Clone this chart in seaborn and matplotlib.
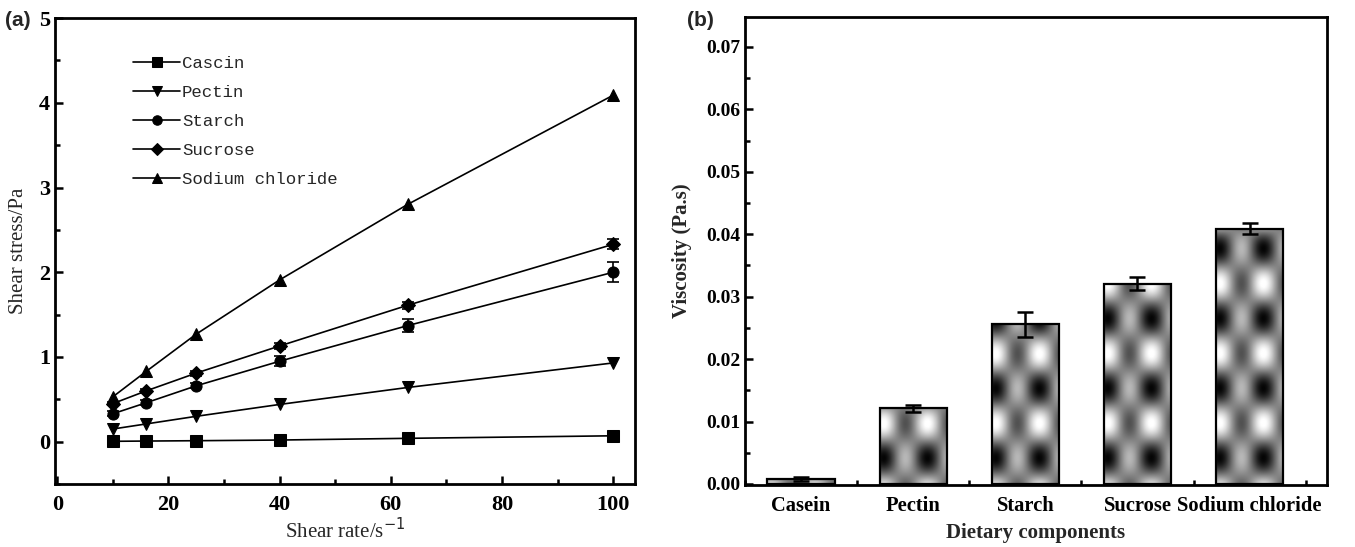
import numpy as np
import matplotlib
matplotlib.use("Agg")
import matplotlib.pyplot as plt
from matplotlib.ticker import MultipleLocator, FormatStrFormatter
import seaborn as sns

# (a) shear stress vs shear rate
shear_rate = [10, 16, 25, 40, 63, 100]
series_names = ["Cascin", "Pectin", "Starch", "Sucrose", "Sodium chloride"]
casein_stress = [0.005, 0.008, 0.012, 0.02, 0.04, 0.07]
pectin_stress = [0.15, 0.21, 0.30, 0.44, 0.64, 0.93]
starch_stress = [0.33, 0.46, 0.66, 0.95, 1.37, 2.00]
sucrose_stress = [0.45, 0.60, 0.81, 1.13, 1.61, 2.33]
nacl_stress = [0.53, 0.83, 1.27, 1.91, 2.80, 4.09]
starch_err = [0.03, 0.03, 0.03, 0.06, 0.08, 0.12]
sucrose_err = [0.02, 0.02, 0.03, 0.03, 0.04, 0.06]
series_markers = ["s", "v", "o", "D", "^"]

# (b) viscosity per dietary component
components = ["Casein", "Pectin", "Starch", "Sucrose", "Sodium chloride"]
viscosity = [0.0008, 0.0121, 0.0256, 0.0321, 0.0409]
viscosity_err = [0.0003, 0.0006, 0.0020, 0.0010, 0.0009]

sns.set_theme(style="ticks")
plt.rcParams["font.family"] = ["Liberation Serif", "DejaVu Serif"]

fig = plt.figure(figsize=(13.55, 5.47), dpi=100)
ax_a = fig.add_axes([0.0406, 0.115, 0.4284, 0.852])
ax_b = fig.add_axes([0.5498, 0.113, 0.4295, 0.856])

# ---- panel (a)
all_stress = [casein_stress, pectin_stress, starch_stress, sucrose_stress, nacl_stress]
for name, vals, mk in zip(series_names, all_stress, series_markers):
    sns.lineplot(x=shear_rate, y=vals, ax=ax_a, color="black", marker=mk,
                 markersize=8 if mk != "D" else 7, markeredgecolor="black",
                 linewidth=1.2, label=name)
ax_a.errorbar(shear_rate, starch_stress, yerr=starch_err, fmt="none",
              ecolor="black", elinewidth=1.2, capsize=4, capthick=1.2)
ax_a.errorbar(shear_rate, sucrose_stress, yerr=sucrose_err, fmt="none",
              ecolor="black", elinewidth=1.2, capsize=4, capthick=1.2)

ax_a.set_xlim(-0.4, 104)
ax_a.set_ylim(-0.5, 5)
ax_a.xaxis.set_major_locator(MultipleLocator(20))
ax_a.xaxis.set_minor_locator(MultipleLocator(10))
ax_a.yaxis.set_major_locator(MultipleLocator(1))
ax_a.yaxis.set_minor_locator(MultipleLocator(0.5))
ax_a.set_xlabel("Shear rate/s$^{-1}$", fontsize=15, labelpad=2)
ax_a.set_ylabel("Shear stress/Pa", fontsize=15, labelpad=8)

ax_a.legend(loc="upper left", bbox_to_anchor=(0.108, 0.953), frameon=False,
            handlelength=2.7, labelspacing=0.8, handletextpad=0.1, markerscale=0.85,
            prop={"family": "Liberation Mono", "size": 12.5})

fig.text(0.004, 0.962, "(a)", fontsize=15, fontweight="bold",
         family="Liberation Sans", va="center")

# ---- panel (b)
sns.barplot(x=components, y=viscosity, ax=ax_b, width=0.6, color="gray",
            edgecolor="black", linewidth=1.6, errorbar=None)

# grey blotchy texture clipped to each bar
for patch in ax_b.patches:
    x0, w, h = patch.get_x(), patch.get_width(), patch.get_height()
    u = np.linspace(0, 1, 120)
    v = np.linspace(0, h, max(int(h / 0.0002), 4))
    U, V = np.meshgrid(u, v)
    cu = np.cos(2 * np.pi * (U - 0.05) / 0.65)
    cv = np.cos(2 * np.pi * (V - 0.0041) / 0.0112)
    f = 0.7 * cu * cv + 0.3 * cv
    shade = 0.52 - 0.5 * f
    im = ax_b.imshow(shade, cmap="gray", vmin=0, vmax=1, origin="lower",
                     extent=(x0, x0 + w, 0, h), aspect="auto",
                     interpolation="bilinear", zorder=2)
    im.set_clip_path(patch)
    patch.set_facecolor("none")
    patch.set_zorder(3)

centers = [p.get_x() + p.get_width() / 2 for p in ax_b.patches]
ax_b.errorbar(centers, viscosity, yerr=viscosity_err, fmt="none", ecolor="black",
              elinewidth=1.8, capsize=6, capthick=1.8, zorder=4)

ax_b.set_xlim(-0.5, 4.69)
ax_b.set_ylim(-0.0002, 0.0748)
ax_b.xaxis.set_minor_locator(MultipleLocator(1, offset=0.5))
ax_b.yaxis.set_major_locator(MultipleLocator(0.01))
ax_b.yaxis.set_minor_locator(MultipleLocator(0.005))
ax_b.yaxis.set_major_formatter(FormatStrFormatter("%.2f"))
ax_b.set_xlabel("Dietary components", fontsize=15, fontweight="bold", labelpad=5)
ax_b.set_ylabel("Viscosity (Pa.s)", fontsize=15, fontweight="bold", labelpad=10)

fig.text(0.507, 0.962, "(b)", fontsize=15, fontweight="bold",
         family="Liberation Sans", va="center")

for ax in (ax_a, ax_b):
    for sp in ax.spines.values():
        sp.set_visible(True)
        sp.set_linewidth(2)
        sp.set_color("black")
    ax.tick_params(which="both", direction="in", width=1.8, colors="black",
                   labelsize=14)
    ax.tick_params(which="major", length=6)
    ax.tick_params(which="minor", length=3.5)
    ax.tick_params(axis="x", pad=8)
    ax.set_facecolor("white")

ax_a.tick_params(which="both", labelsize=16)
ax_b.tick_params(axis="x", labelsize=14.8)
for ax in (ax_a, ax_b):
    for lab in ax.get_xticklabels() + ax.get_yticklabels():
        lab.set_fontweight("bold")

fig.savefig("out.png", dpi=100, facecolor="white")
